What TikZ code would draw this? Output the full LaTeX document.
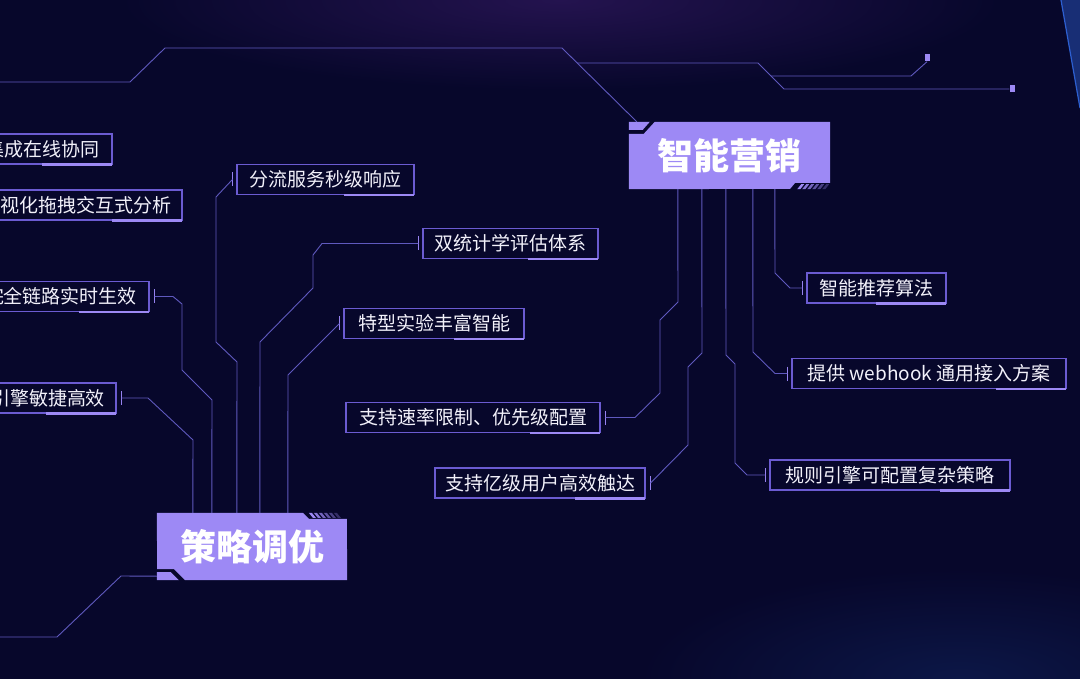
\documentclass[tikz,border=0pt]{standalone}
\usepackage{fontspec}
\usepackage{xcolor}
\usepackage{tikz}
\usetikzlibrary{calc,backgrounds}
\newfontfamily\cjk{Noto Sans CJK SC}
\definecolor{night}{HTML}{07072B}
\definecolor{glow}{HTML}{24134F}
\definecolor{deepblue}{HTML}{0C1747}
\definecolor{edgeblue}{HTML}{2D5FD0}
\definecolor{wire}{HTML}{5F59BE}
\definecolor{rim}{HTML}{6B5BD2}
\definecolor{lilac}{HTML}{9D89F5}
\definecolor{paper}{HTML}{F2F1FA}
\tikzset{
  every node/.style={font=\cjk\fontsize{19}{21}\selectfont,text=paper},
  item/.style={draw=rim,line width=1.1pt,fill=night,minimum height=30pt,inner sep=0pt},
  title/.style={minimum height=67pt,inner sep=0pt,font=\cjk\bfseries\fontsize{36}{38}\selectfont,text=white},
  titlebox/.style={fill=lilac},
  wire/.style={draw=wire,line width=0.9pt,line join=miter},
  tick/.style={draw=lilac!85!rim,line width=1.3pt},
  accent/.style={draw=lilac,line width=2.6pt},
  marker/.style={fill=lilac,minimum width=5pt,minimum height=7pt,inner sep=0pt}
}
\begin{document}
\begin{tikzpicture}[x=1pt,y=-1pt]
  \useasboundingbox (0,0) rectangle (1080,679);
  \begin{scope}[on background layer]
    \clip (0,0) rectangle (1080,679);
    \fill[night] (0,0) rectangle (1080,679);
    \shade[inner color=glow,outer color=night] (560,0) ellipse [x radius=440pt,y radius=90pt];
    \shade[inner color=deepblue,outer color=night] (960,679) ellipse [x radius=320pt,y radius=110pt];
    \fill[edgeblue,opacity=.45] (1061,0) -- (1080,0) -- (1080,108) -- cycle;
    \draw[edgeblue,line width=1.2pt] (1061,0) -- (1080,108);
  \end{scope}
  \clip (0,0) rectangle (1080,679);

  % main headings
  \node[title,minimum width=201pt] (zn) at (729.5,155.5) {智能营销};
  \node[title,minimum width=190pt] (cl) at (252,546.5) {策略调优};
  \begin{scope}[on background layer]
    \fill[titlebox] (zn.north west) ++(0,12) -- ++(15,0) -- ++(11,-12) -- (zn.north east) -- ++(0,61) -- ++(-35,0) -- ++(-5,6) -- (zn.south west) -- cycle;
    \fill[titlebox] (zn.north west) -- ++(21,0) -- ++(-7,8) -- ++(-14,0) -- cycle;
    \foreach \i in {0,...,5} {\fill[lilac,opacity=1-\i*0.14] ($(zn.south east)+({-33+5*\i},0)$) -- ++(3,0) -- ++(4,-5) -- ++(-3,0) -- cycle;}
    \fill[titlebox] (cl.north west) -- ++(146,0) -- ++(6,6) -- ++(38,0) -- (cl.south east) -- ++(-162,0) -- ++(-11,-11) -- ++(-17,0) -- cycle;
    \fill[titlebox] (cl.south west) -- ++(0,-8) -- ++(14,0) -- ++(8,8) -- cycle;
    \foreach \i in {0,...,5} {\fill[lilac,opacity=1-\i*0.14] ($(cl.north west)+({152+5*\i},0)$) -- ++(3,0) -- ++(4,5) -- ++(-3,0) -- cycle;}
  \end{scope}

  % feature boxes
  \node[item,minimum width=138pt] (xietong) at (43,149) {集成在线协同};
  \node[item,minimum width=192pt] (fenxi) at (86,205) {视化拖拽交互式分析};
  \node[item,minimum width=176pt] (shengxiao) at (61,296.5) {完全链路实时生效};
  \node[item,minimum width=136pt] (yinqing) at (48,398) {引擎敏捷高效};
  \node[item,minimum width=177pt] (fenliu) at (325.5,179.5) {分流服务秒级响应};
  \node[item,minimum width=175pt] (pinggu) at (510.5,243.5) {双统计学评估体系};
  \node[item,minimum width=180pt] (shiyan) at (434,323.5) {特型实验丰富智能};
  \node[item,minimum width=254pt] (sulv) at (473,417.5) {支持速率限制、优先级配置};
  \node[item,minimum width=210pt] (chuda) at (540,483) {支持亿级用户高效触达};
  \node[item,minimum width=139pt] (tuijian) at (876.5,288) {智能推荐算法};
  \node[item,minimum width=274pt] (webhook) at (929,373.5) {提供 webhook 通用接入方案};
  \node[item,minimum width=240pt] (guize) at (890,475) {规则引擎可配置复杂策略};
  \foreach \n in {xietong,fenxi,shengxiao,yinqing,fenliu,pinggu,shiyan,sulv,chuda,tuijian,webhook,guize} {\draw[accent] ([xshift=-1pt]\n.south east) -- ++(-70,0);}

  % ticks
  \foreach \n in {fenliu,pinggu,shiyan,tuijian,webhook,guize} {
    \coordinate (t\n) at ([xshift=-4pt]\n.west);
    \draw[tick] ([yshift=7pt]t\n) -- ([yshift=-7pt]t\n);
  }
  \foreach \n in {shengxiao,yinqing,sulv,chuda} {
    \coordinate (t\n) at ([xshift=5pt]\n.east);
    \draw[tick] ([yshift=7pt]t\n) -- ([yshift=-7pt]t\n);
  }

  % wires to 策略调优
  \draw[wire] (tshengxiao) -- (173,296.5) -- (182,304) -- (182,370) -- (212,400) -- ([xshift=55pt]cl.north west);
  \draw[wire] (tyinqing) -- (148,398) -- (193,440) -- ([xshift=36pt]cl.north west);
  \draw[wire] (tfenliu) -- (216,197) -- (216,342) -- (237,362) -- ([xshift=80pt]cl.north west);
  \draw[wire] (tpinggu) -- (322,243.5) -- (313,255) -- (313,288) -- (260,342) -- ([xshift=103pt]cl.north west);
  \draw[wire] (tshiyan) -- (288,375) -- ([xshift=131pt]cl.north west);
  \coordinate (sw) at (0,637);
  \draw[wire] (sw) -- (57,637) -- (121,576) -- ([yshift=4pt]cl.south west);

  % wires to 智能营销
  \draw[wire] ([xshift=49pt]zn.south west) -- (678,302) -- (660,320) -- (660,393) -- (635,417.5) -- (tsulv);
  \draw[wire] ([xshift=73pt]zn.south west) -- (702,353) -- (688,367) -- (688,445) -- (tchuda);
  \draw[wire] ([xshift=97pt]zn.south west) -- (726,355) -- (735,364) -- (735,463) -- (747,475) -- (tguize);
  \draw[wire] ([xshift=124pt]zn.south west) -- (753,352) -- (775,373.5) -- (twebhook);
  \draw[wire] ([xshift=146pt]zn.south west) -- (775,273) -- (790,288) -- (ttuijian);

  % top traces
  \node[marker] (m1) at (927,58) {};
  \node[marker] (m2) at (1012,89) {};
  \coordinate (nw) at (0,82);
  \coordinate (fork) at (577,63);
  \coordinate (fork2) at (771,76);
  \draw[wire] (nw) -- (130,82) -- (165,48) -- (562,48) -- ([xshift=8pt]zn.north west);
  \draw[wire] (fork) -- (758,63) -- (784,89) -- (m2.west);
  \draw[wire] (fork2) -- (911,76) -- (m1.south);
\end{tikzpicture}
\end{document}
